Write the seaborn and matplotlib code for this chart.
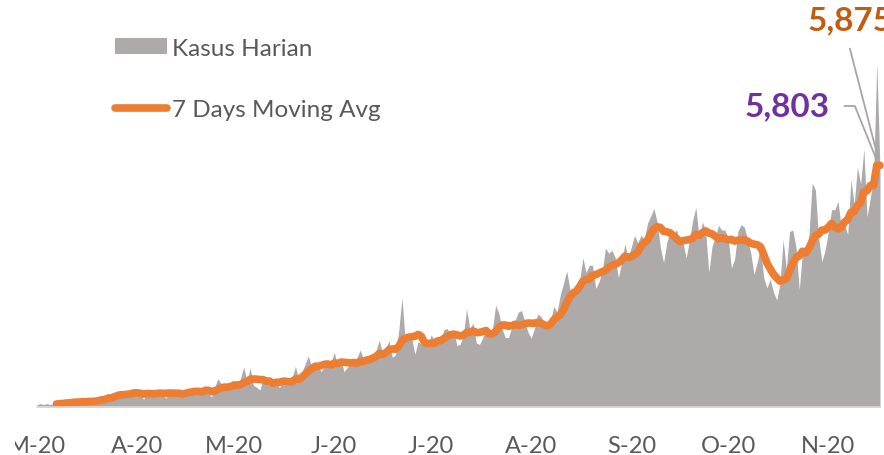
import pandas as pd
import matplotlib
matplotlib.use("Agg")
import matplotlib.pyplot as plt
import matplotlib.dates as mdates
from matplotlib.transforms import Bbox
import seaborn as sns

#%% Data kasus harian, 18 Maret - 4 Desember 2020
tanggal_awal = "2020-03-18"
maret = [55, 82, 60, 81, 64, 65, 107, 105, 103, 153, 109, 130, 129, 114]
april = [149, 113, 196, 106, 181, 218, 247, 218, 337, 219, 330, 399, 316, 282, 297,
         380, 407, 325, 327, 185, 375, 283, 357, 436, 396, 275, 214, 415, 260, 347]
mei = [433, 292, 349, 395, 484, 367, 338, 336, 533, 387, 233, 484, 689, 568, 490, 529,
       489, 496, 486, 693, 973, 634, 949, 526, 479, 415, 686, 687, 678, 557, 700]
juni = [467, 609, 684, 585, 703, 993, 672, 847, 1043, 1241, 979, 1111, 1014, 857, 1017,
        1106, 1031, 1331, 1041, 1226, 862, 954, 1051, 1113, 1178, 1385, 1198, 1082, 1082, 1293]
juli = [1385, 1624, 1301, 1447, 1607, 1209, 1268, 1853, 2657, 1611, 1671, 1681, 1282, 1591,
        1522, 1574, 1462, 1752, 1639, 1693, 1655, 1882, 1906, 1761, 1868, 1492, 1525, 1748,
        2381, 1904, 2040]
agustus = [1560, 1519, 1679, 1922, 1815, 1882, 2473, 2277, 1893, 1687, 1693, 1942, 2098,
           2307, 2345, 2081, 1821, 1673, 1902, 2266, 2197, 2037, 1877, 2108, 2447, 2306,
           2719, 3003, 3308, 2858, 2743]
september = [2775, 3075, 3622, 3269, 3444, 3444, 2880, 3046, 3307, 3861, 3737, 3806, 3636,
             3141, 3507, 3963, 3635, 3891, 4168, 3989, 4176, 4071, 4465, 4634, 4823, 4494,
             3874, 3509, 4002, 4284]
oktober = [4174, 4317, 4007, 3992, 3622, 4056, 4538, 4850, 4094, 4497, 4294, 3267, 3906,
           4127, 4411, 4301, 4301, 4105, 3373, 3602, 4267, 4432, 4369, 4070, 3732, 3222,
           3520, 3900, 3143, 2897, 3100]
november = [2800, 2600, 2973, 4065, 3356, 4262, 4301, 3880, 2853, 3779, 3770, 4173, 5444,
            5272, 4106, 3535, 3807, 4265, 4798, 4792, 4998, 4360, 4442, 4192, 5534, 4917,
            5828, 5418, 6267, 4617]
desember = [5092, 5533, 8369, 5803]

label_bulan = ["M-20", "A-20", "M-20", "J-20", "J-20", "A-20", "S-20", "O-20", "N-20"]
label_ma = "5,875"
label_harian = "5,803"

kasus = maret + april + mei + juni + juli + agustus + september + oktober + november + desember
df = pd.DataFrame({"Tanggal": pd.date_range(tanggal_awal, periods=len(kasus), freq="D"),
                   "Kasus": kasus})
df["MA7"] = df["Kasus"].rolling(7).mean()
tick_tanggal = pd.date_range(tanggal_awal, periods=len(label_bulan), freq=pd.DateOffset(months=1))

#%% Grafik
sns.set_theme(style="white")
plt.rcParams["font.family"] = ["Lato", "DejaVu Sans"]

fig = plt.figure(figsize=(8.84, 4.56), dpi=100)
ax = fig.add_axes([0, 48 / 456, 1, 408 / 456])

ax.fill_between(df["Tanggal"], 0, df["Kasus"], color="#AEAAAA", lw=0, label="Kasus Harian")
sns.lineplot(data=df, x="Tanggal", y="MA7", color="#ED7D31", lw=5.5, ax=ax,
             label="7 Days Moving Avg", errorbar=None, solid_capstyle="round")

# skala sumbu
t0 = df["Tanggal"].iloc[0]
px_hari = 843 / (len(df) - 1)
ax.set_xlim(t0 - pd.Timedelta(days=37 / px_hari), t0 + pd.Timedelta(days=847 / px_hari))
ax.set_ylim(0, 9914)

ax.set_xticks(tick_tanggal)
ax.set_xticklabels(label_bulan)
ax.tick_params(axis="x", length=0, pad=20.5, labelsize=17, labelcolor="#595959")
# label pertama terpotong di tepi kiri seperti aslinya
lbl0 = ax.get_xticklabels()[0]
lbl0.set_clip_on(True)
lbl0.set_clip_box(Bbox.from_extents(15, 0, 884, 456))
ax.set_yticks([])
ax.set_xlabel("")
ax.set_ylabel("")
for s in ["top", "left", "right"]:
    ax.spines[s].set_visible(False)
ax.spines["bottom"].set_color("#D9D9D9")
ax.spines["bottom"].set_linewidth(1.2)
ax.spines["bottom"].set_bounds(mdates.date2num(df["Tanggal"].iloc[0]),
                               mdates.date2num(df["Tanggal"].iloc[-1]))

leg = ax.legend(loc="upper left", bbox_to_anchor=(115 / 884, 417.5 / 456),
                bbox_transform=fig.transFigure, frameon=False, fontsize=17.5,
                handlelength=2.15, handleheight=0.65, handletextpad=0.2,
                labelspacing=1.67, borderpad=0, borderaxespad=0)
for t in leg.get_texts():
    t.set_color("#595959")

# label nilai terakhir
akhir = df.iloc[-1]
ax.annotate(label_harian, xy=(akhir["Tanggal"], akhir["Kasus"]), xytext=(830, 456 - 107),
            textcoords="figure pixels", ha="right", va="center", fontsize=24,
            fontweight="bold", color="#7030A0",
            arrowprops=dict(arrowstyle="-", color="#A6A6A6", lw=1.3, relpos=(1, 0.5),
                            shrinkA=8, shrinkB=5,
                            connectionstyle="angle,angleA=0,angleB=112,rad=0"))
ax.annotate(label_ma, xy=(akhir["Tanggal"], akhir["MA7"]), xytext=(808, 456 - 21),
            textcoords="figure pixels", ha="left", va="center", fontsize=24,
            fontweight="bold", color="#C55A11",
            arrowprops=dict(arrowstyle="-", color="#A6A6A6", lw=1.3, relpos=(0.45, 0),
                            shrinkA=8, shrinkB=5))

fig.savefig("out.png", dpi=100)
